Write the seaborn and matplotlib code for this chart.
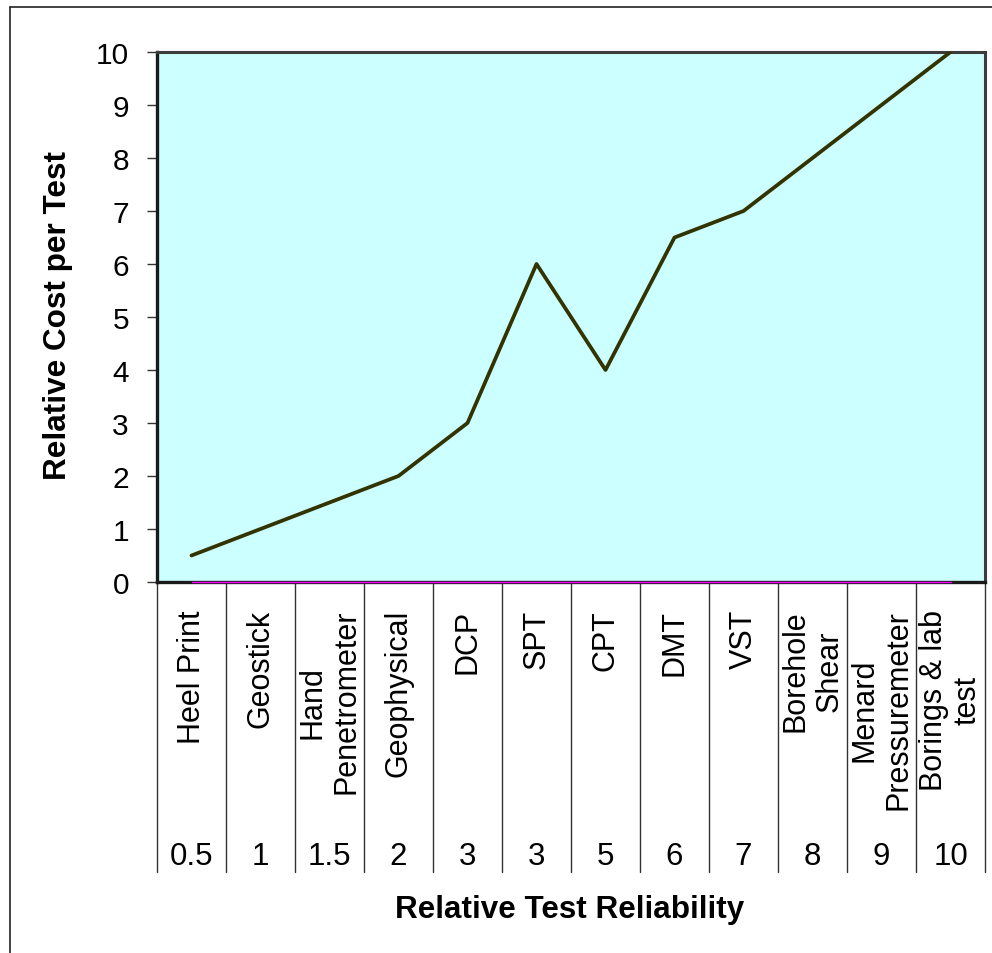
import numpy as np
import pandas as pd
import matplotlib
matplotlib.use("Agg")
import matplotlib.pyplot as plt
import matplotlib.transforms as mtransforms
from matplotlib.lines import Line2D
import seaborn as sns

# Field / lab test methods, their relative reliability and relative cost
tests = ["Heel Print", "Geostick", "Hand\nPenetrometer", "Geophysical", "DCP",
         "SPT", "CPT", "DMT", "VST", "Borehole\nShear",
         "Menard\nPressuremeter", "Borings & lab\ntest"]
reliability = ["0.5", "1", "1.5", "2", "3", "3", "5", "6", "7", "8", "9", "10"]
relative_cost = [0.5, 1, 1.5, 2, 3, 6, 4, 6.5, 7, 8, 9, 10]
zero_series = [0, 0, 0, 0, 0, 0, 0, 0, 0, 0, 0, 0]
y_ticks = [0, 1, 2, 3, 4, 5, 6, 7, 8, 9, 10]

W, H = 992, 954
sns.set_theme(style="white")
plt.rcParams["font.family"] = ["Liberation Sans", "DejaVu Sans"]

fig = plt.figure(figsize=(W / 100, H / 100), dpi=100)
fig.patch.set_facecolor("white")


def fx(px):
    return px / W


def fy(py):
    return 1 - py / H


ax = fig.add_axes([fx(157), fy(583), (985 - 157) / W, (583 - 53) / H])
ax.set_facecolor("#CCFFFF")

df = pd.DataFrame({"pos": np.arange(len(tests)),
                   "cost": relative_cost,
                   "zero": zero_series})

sns.lineplot(data=df, x="pos", y="cost", ax=ax, color="#333300",
             linewidth=2.7, zorder=4)
sns.lineplot(data=df, x="pos", y="zero", ax=ax, color="#FF00FF",
             linewidth=1.0, clip_on=False, zorder=6)

ax.set_xlim(-0.5, len(tests) - 0.5)
ax.set_ylim(0, 10)
ax.set_yticks(y_ticks)
ax.set_yticklabels([str(v) for v in y_ticks], fontsize=21.5)
ax.set_xticks([])
ax.set_xlabel("")
ax.set_ylabel("")
ax.tick_params(axis="y", which="both", left=True, length=7.2, width=1,
               color="#333333", pad=13, labelcolor="black")

for side in ("left", "bottom"):
    ax.spines[side].set_color("#1a1a1a")
    ax.spines[side].set_linewidth(2.4)
for side in ("top", "right"):
    ax.spines[side].set_color("#3c3c3c")
    ax.spines[side].set_linewidth(2.2)
for s in ax.spines.values():
    s.set_visible(True)

# Category axis below the plot: separators, test names and reliability values
trans = mtransforms.blended_transform_factory(ax.transData, fig.transFigure)
for i in range(len(tests) + 1):
    ax.add_line(Line2D([i - 0.5, i - 0.5], [fy(583), fy(873)], transform=trans,
                       color="#333333", linewidth=1.0, clip_on=False))

for i, (name, rel) in enumerate(zip(tests, reliability)):
    ax.text(i, fy(610), name, transform=trans, rotation=90, ha="center",
            va="top", multialignment="center", fontsize=22,
            linespacing=1.15, color="black")
    ax.text(i, fy(865), rel, transform=trans, ha="center", va="baseline",
            fontsize=22.5, color="black")

fig.text(fx(570), fy(918), "Relative Test Reliability", ha="center",
         va="baseline", fontsize=22.6, fontweight="bold", color="black")
fig.text(fx(58), fy(316), "Relative Cost per Test", ha="center",
         va="center", rotation=90, fontsize=22.7, fontweight="bold",
         color="black")

# Outer chart frame
fig.add_artist(Line2D([fx(10), fx(10)], [fy(8), fy(954)],
                      transform=fig.transFigure, color="#222222", linewidth=1.2))
fig.add_artist(Line2D([fx(10), fx(992)], [fy(8), fy(8)],
                      transform=fig.transFigure, color="#222222", linewidth=1.2))

fig.savefig("out.png", dpi=100)
